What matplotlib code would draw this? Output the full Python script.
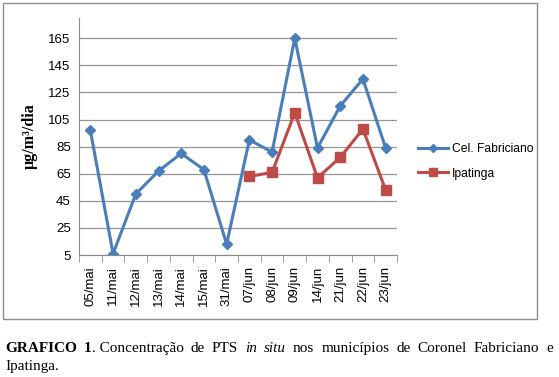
import matplotlib
matplotlib.use('Agg')
import matplotlib.pyplot as plt
from matplotlib.patches import Rectangle

# data
datas = ['05/mai', '11/mai', '12/mai', '13/mai', '14/mai', '15/mai', '31/mai',
         '07/jun', '08/jun', '09/jun', '14/jun', '21/jun', '22/jun', '23/jun']
fabriciano = [97, 6, 50, 67, 80, 68, 13, 90, 81, 165, 84, 115, 135, 84]
ipatinga = [None, None, None, None, None, None, None, 63, 66, 110, 62, 77, 98, 53]
yticks = [5, 25, 45, 65, 85, 105, 125, 145, 165]

W, H = 559, 377
fig = plt.figure(figsize=(W / 100, H / 100), dpi=100)

# outer chart frame
fig.patches.append(Rectangle((3 / W, 1 - 319 / H), 534 / W, 316 / H,
                             transform=fig.transFigure, fill=False,
                             edgecolor='#8c8c8c', linewidth=1))

ax = fig.add_axes([79 / W, 1 - 255 / H, 318 / W, 237 / H])
x = list(range(len(datas)))
ipa_x = [i for i, v in zip(x, ipatinga) if v is not None]
ipa_y = [v for v in ipatinga if v is not None]

ax.plot(x, fabriciano, color='#4a7ebb', linewidth=2.2, marker='D',
        markersize=5, label='Cel. Fabriciano')
ax.plot(ipa_x, ipa_y, color='#be4b48', linewidth=2.2, marker='s',
        markersize=7, label='Ipatinga')

ax.set_xlim(-0.5, len(datas) - 0.5)
ax.set_ylim(5, 180)
ax.set_yticks(yticks)
ax.set_yticklabels([str(v) for v in yticks], fontsize=9.5, family='Liberation Sans')
ax.yaxis.grid(True, color='#969696', linewidth=0.9)
ax.set_axisbelow(True)
ax.tick_params(axis='y', length=0, pad=6)

ax.set_xticks(x)
ax.set_xticklabels(datas, rotation=90, fontsize=9.5, family='Liberation Sans')
ax.set_xticks([i - 0.5 for i in range(len(datas) + 1)], minor=True)
ax.tick_params(axis='x', which='major', length=0, pad=8)
ax.tick_params(axis='x', which='minor', length=5, color='#8c8c8c', direction='out')

for s in ['top', 'right']:
    ax.spines[s].set_visible(False)
for s in ['left', 'bottom']:
    ax.spines[s].set_color('#8c8c8c')

ax.set_ylabel('µg/m³/dia', fontsize=11.5, fontweight='bold',
              family='Liberation Serif', labelpad=8)

leg = ax.legend(loc='center left', bbox_to_anchor=(418 / W, 1 - 161.5 / H),
                bbox_transform=fig.transFigure, frameon=False,
                prop={'family': 'Liberation Sans', 'size': 8.7},
                handlelength=2.5, handletextpad=0.3, labelspacing=1.0,
                borderaxespad=0, borderpad=0, markerscale=0.85)

# caption with mixed styles, first line justified to the right edge
fig.canvas.draw()
r = fig.canvas.get_renderer()
words = [('GRAFICO', 'bold', 'normal'), ('1', 'bold', 'normal'),
         ('. Concentração', 'normal', 'normal'), ('de', 'normal', 'normal'),
         ('PTS', 'normal', 'normal'), ('in', 'normal', 'italic'),
         ('situ', 'normal', 'italic'), ('nos', 'normal', 'normal'),
         ('municípios', 'normal', 'normal'), ('de', 'normal', 'normal'),
         ('Coronel', 'normal', 'normal'), ('Fabriciano', 'normal', 'normal'),
         ('e', 'normal', 'normal')]
glue = [True, False] + [True] * 10
arts = []
for txt, wt, st in words:
    t = fig.text(0, 1 - 352 / H, txt, fontsize=11, family='Liberation Serif',
                 fontweight=wt, style=st, va='baseline', ha='left')
    arts.append(t)
widths = [t.get_window_extent(r).width for t in arts]
left, right = 5, 553
gaps = sum(glue)
gap = (right - left - sum(widths)) / gaps
xpos = left
for t, w, g in zip(arts, widths, glue + [False]):
    t.set_x(xpos / W)
    xpos += w + (gap if g else 0)
fig.text(5 / W, 1 - 370 / H, 'Ipatinga.', fontsize=11, family='Liberation Serif',
         va='baseline', ha='left')

fig.savefig('out.png', dpi=100)
